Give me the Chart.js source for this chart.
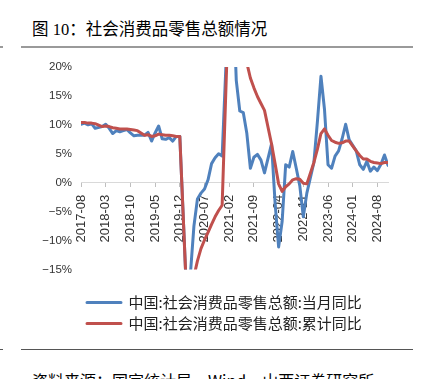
<!DOCTYPE html>
<html>
<head>
<meta charset="utf-8">
<script src="https://cdn.jsdelivr.net/npm/chart.js@4.4.1/dist/chart.umd.min.js"></script>
<style>
  html, body { margin: 0; padding: 0; background: #fff; }
  body { width: 423px; height: 379px; position: relative; overflow: hidden; }
  .title { position: absolute; left: 32px; top: 18px; font-family: "Liberation Serif", "Noto Sans CJK SC", serif; font-size: 16.5px; line-height: 20px; color: #000; white-space: nowrap; }
  .title .cjk { font-family: "Noto Sans CJK SC", sans-serif; }
  .rule { position: absolute; }
  .foot { position: absolute; left: 32px; top: 371px; font-family: "Noto Sans CJK SC", sans-serif; font-size: 16px; line-height: 18px; color: #000; white-space: nowrap; }
  #wrap { position: absolute; left: 0; top: 50px; width: 423px; height: 291px; }
</style>
</head>
<body>
<div class="title"><span class="cjk">图</span> 10<span class="cjk">：社会消费品零售总额情况</span></div>
<div class="rule" style="left:21px; top:46px; width:392px; height:2px; background:#9a9a9a;"></div>
<div class="rule" style="left:0px; top:46px; width:3px; height:2px; background:#9a9a9a;"></div>
<div id="wrap"><canvas id="c"></canvas></div>
<div class="rule" style="left:21px; top:349px; width:392px; height:1px; background:#555;"></div>
<div class="rule" style="left:0px; top:349px; width:3px; height:1px; background:#555;"></div>
<div class="foot">资料来源：国家统计局，Wind，山西证券研究所</div>
<script>
const categories = [
  "2017-08","2017-09","2017-10","2017-11","2017-12",
  "2018-01","2018-02","2018-03","2018-04","2018-05","2018-06","2018-07","2018-08","2018-09","2018-10","2018-11","2018-12",
  "2019-01","2019-02","2019-03","2019-04","2019-05","2019-06","2019-07","2019-08","2019-09","2019-10","2019-11","2019-12",
  "2020-01","2020-02","2020-03","2020-04","2020-05","2020-06","2020-07","2020-08","2020-09","2020-10","2020-11","2020-12",
  "2021-01","2021-02","2021-03","2021-04","2021-05","2021-06","2021-07","2021-08","2021-09","2021-10","2021-11","2021-12",
  "2022-01","2022-02","2022-03","2022-04","2022-05","2022-06","2022-07","2022-08","2022-09","2022-10","2022-11","2022-12",
  "2023-01","2023-02","2023-03","2023-04","2023-05","2023-06","2023-07","2023-08","2023-09","2023-10","2023-11","2023-12",
  "2024-01","2024-02","2024-03","2024-04","2024-05","2024-06","2024-07","2024-08","2024-09","2024-10","2024-11"
];
// 当月同比 (%)
const monthlyYoY = [
  10.1, 10.3, 10.0, 10.2, 9.4,
  null, 9.7, 10.1, 9.4, 8.5, 9.0, 8.8, 9.0, 9.2, 8.6, 8.1, 8.2,
  null, 8.2, 8.7, 7.2, 8.6, 9.8, 7.6, 7.5, 7.8, 7.2, 8.0, 8.0,
  null, -20.5, -15.8, -7.5, -2.8, -1.8, -1.1, 0.5, 3.3, 4.3, 5.0, 4.6,
  null, 33.8, 34.2, 17.7, 12.4, 12.1, 8.5, 2.5, 4.4, 4.9, 3.9, 1.7,
  null, 6.7, -3.5, -11.1, -6.7, 3.1, 2.7, 5.4, 2.5, -0.5, -5.9, -1.8,
  null, 3.5, 10.6, 18.4, 12.7, 3.1, 2.5, 4.6, 5.5, 7.6, 10.1, 7.4,
  null, 5.5, 3.1, 2.3, 3.7, 2.0, 2.7, 2.1, 3.2, 4.8, 3.0
];
// 累计同比 (%)
const cumulativeYoY = [
  10.4, 10.4, 10.3, 10.3, 10.2,
  null, 9.7, 9.8, 9.7, 9.5, 9.4, 9.3, 9.3, 9.3, 9.2, 9.1, 9.0,
  null, 8.2, 8.3, 8.0, 8.1, 8.4, 8.3, 8.2, 8.2, 8.1, 8.0, 8.0,
  null, -20.5, -19.0, -16.2, -13.5, -11.4, -9.9, -8.6, -7.2, -5.9, -4.8, -3.9,
  null, 33.8, 33.9, 29.6, 25.7, 23.0, 20.7, 18.1, 16.4, 14.9, 13.7, 12.5,
  null, 6.7, 3.3, -0.2, -1.5, -0.7, -0.2, 0.5, 0.7, 0.6, -0.1, -0.2,
  null, 3.5, 5.8, 8.5, 9.3, 8.2, 7.3, 7.0, 6.8, 6.9, 7.2, 7.2,
  null, 5.5, 4.7, 4.1, 4.1, 3.7, 3.5, 3.4, 3.3, 3.5, 3.5
];
const seriesNames = ["中国:社会消费品零售总额:当月同比", "中国:社会消费品零售总额:累计同比"];
const yTicks = { min: -15, max: 20, step: 5 };
const labelEvery = 7;

const BLUE = "#4F81BD", RED = "#C0504D";

new Chart(document.getElementById("c"), {
  type: "line",
  data: {
    labels: categories,
    datasets: [
      { label: seriesNames[0], data: monthlyYoY, borderColor: BLUE, backgroundColor: BLUE, order: 1 },
      { label: seriesNames[1], data: cumulativeYoY, borderColor: RED, backgroundColor: RED, order: 0 }
    ]
  },
  options: {
    responsive: true,
    maintainAspectRatio: false,
    animation: false,
    devicePixelRatio: 1,
    layout: { padding: { left: 0, right: 35, top: 17, bottom: 0 } },
    elements: {
      line: { borderWidth: 3, tension: 0, borderCapStyle: "round", borderJoinStyle: "round" },
      point: { radius: 0, hoverRadius: 0 }
    },
    datasets: { line: { spanGaps: true, clip: 0 } },
    scales: {
      x: {
        type: "category",
        position: { y: 0 },
        offset: false,
        afterBuildTicks: (s) => { s.ticks = s.ticks.filter(t => t.value % labelEvery === 0); },
        afterFit: (s) => { s.paddingLeft = 0; s.paddingRight = 0; },
        grid: { display: true, drawOnChartArea: false, drawTicks: true, tickLength: 4, color: "#bfbfbf" },
        border: { display: true, color: "#d9d9d9", width: 1 },
        ticks: {
          autoSkip: false, minRotation: 90, maxRotation: 90, padding: 8,
          color: "#333", font: { family: "Liberation Sans, Arial, sans-serif", size: 13 }
        }
      },
      y: {
        position: "left",
        min: yTicks.min, max: yTicks.max,
        afterFit: (s) => { s.width = 81; s.paddingTop = 0; s.paddingBottom = 0; },
        grid: { display: false, drawTicks: false },
        border: { display: false },
        ticks: {
          stepSize: yTicks.step, padding: 9, color: "#333",
          font: { family: "Liberation Sans, Arial, sans-serif", size: 11.5 },
          callback: (v) => (v < 0 ? "\u2212" + Math.abs(v) : v) + "%"
        }
      }
    },
    plugins: {
      tooltip: { enabled: false },
      legend: {
        position: "bottom",
        align: "start",
        fullSize: false,
        title: { display: true, text: "", padding: { top: 9.5, bottom: 0 }, font: { size: 10, lineHeight: 1 } },
        labels: {
          boxWidth: 34, boxHeight: 0, padding: 6, color: "#222",
          font: { family: "Noto Sans CJK SC, sans-serif", size: 15 },
          sort: (a, b) => a.datasetIndex - b.datasetIndex
        }
      }
    }
  }
});
</script>
</body>
</html>
